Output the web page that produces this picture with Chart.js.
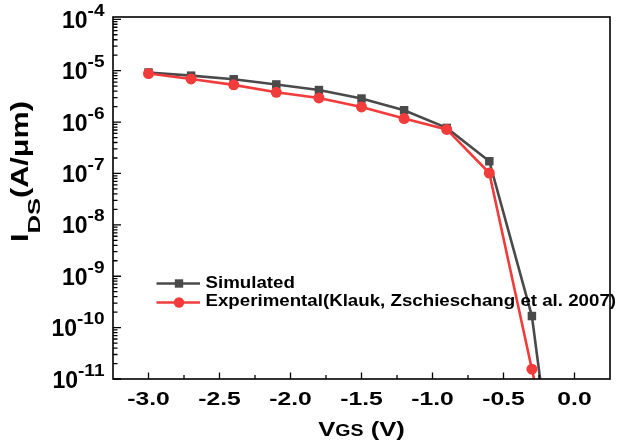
<!DOCTYPE html>
<html><head><meta charset="utf-8">
<script src="https://cdn.jsdelivr.net/npm/chart.js@4.4.0/dist/chart.umd.min.js"></script>
<style>html,body{margin:0;padding:0;background:#fff;} #wrap{width:623px;height:444px;}</style>
</head><body><div id="wrap"><canvas id="c" width="623" height="444"></canvas></div>
<script>
// ---- data ----
const vgs = [-3.0, -2.7, -2.4, -2.1, -1.8, -1.5, -1.2, -0.9, -0.6, -0.3, -0.2];
const simulated = [9.2e-6, 8.0e-6, 6.8e-6, 5.4e-6, 4.2e-6, 2.87e-6, 1.7e-6, 7.7e-7, 1.73e-7, 1.68e-10, 1.3e-12];
const experimental = [8.8e-6, 6.9e-6, 5.3e-6, 3.8e-6, 2.95e-6, 1.97e-6, 1.17e-6, 7.2e-7, 1.02e-7, 1.55e-11, 8.5e-13];
const xTickValues = [-3.0, -2.5, -2.0, -1.5, -1.0, -0.5, 0.0];
const xTickLabels = ["-3.0", "-2.5", "-2.0", "-1.5", "-1.0", "-0.5", "0.0"];
const yTickExponents = [-4, -5, -6, -7, -8, -9, -10, -11];
const seriesNames = ["Simulated", "Experimental(Klauk, Zschieschang et al. 2007)"];
const xTitleParts = ["V", "GS", " (V)"];
const yTitleParts = ["I", "DS", "(A/μm)"];

const GRAY = '#4a4a4a', RED = '#f23b3b';
const FAM = '"Liberation Sans", Arial, sans-serif';

function txt(ctx, s, x, y, size, sx, align) {
  ctx.save();
  ctx.font = 'bold ' + size + 'px ' + FAM;
  const w = ctx.measureText(s).width * sx;
  let x0 = x;
  if (align === 'center') x0 = x - w / 2;
  else if (align === 'right') x0 = x - w;
  ctx.translate(x0, y);
  ctx.scale(sx, 1);
  ctx.textAlign = 'left';
  ctx.textBaseline = 'alphabetic';
  ctx.fillStyle = '#000';
  ctx.fillText(s, 0, 0);
  ctx.restore();
  return w;
}
function measure(ctx, s, size, sx) {
  ctx.save(); ctx.font = 'bold ' + size + 'px ' + FAM;
  const w = ctx.measureText(s).width * sx; ctx.restore(); return w;
}

const decor = {
  id: 'decor',
  afterDraw(chart) {
    const ctx = chart.ctx, a = chart.chartArea;
    const xs = chart.scales.x, ys = chart.scales.y;
    ctx.save();
    ctx.strokeStyle = '#000';
    // ticks (inward)
    ctx.lineWidth = 1.3;
    ctx.beginPath();
    for (let e = -11; e <= -4; e++) {
      const y = ys.getPixelForValue(Math.pow(10, e));
      ctx.moveTo(a.left, y); ctx.lineTo(a.left + 8, y);
      if (e < -4) for (let m = 2; m <= 9; m++) {
        const yy = ys.getPixelForValue(m * Math.pow(10, e));
        ctx.moveTo(a.left, yy); ctx.lineTo(a.left + 4.5, yy);
      }
    }
    xTickValues.forEach(v => {
      const x = xs.getPixelForValue(v);
      ctx.moveTo(x, a.bottom); ctx.lineTo(x, a.bottom - 6.5);
      if (v < 0) {
        const xm = xs.getPixelForValue(v + 0.25);
        ctx.moveTo(xm, a.bottom); ctx.lineTo(xm, a.bottom - 4);
      }
    });
    ctx.stroke();
    // frame
    ctx.lineWidth = 1.6;
    ctx.strokeRect(a.left, a.top, a.right - a.left, a.bottom - a.top);

    // y tick labels
    yTickExponents.forEach(e => {
      const y = ys.getPixelForValue(Math.pow(10, e));
      const we = txt(ctx, String(e), 104.5, y - 3.5, 17, 1.12, 'right');
      txt(ctx, '10', 104.5 - we, y + 8.5, 23, 1.0, 'right');
    });
    // x tick labels
    xTickValues.forEach((v, i) => {
      txt(ctx, xTickLabels[i], xs.getPixelForValue(v), 405, 19, 1.3, 'center');
    });
    // x title
    const sxT = 1.22;
    const sizes = [21, 16, 21];
    let tot = 0;
    xTitleParts.forEach((p, i) => tot += measure(ctx, p, sizes[i], sxT));
    let cx = (a.left + a.right) / 2 - tot / 2;
    xTitleParts.forEach((p, i) => { cx += txt(ctx, p, cx, 436, sizes[i], sxT, 'left'); });
    // y title
    ctx.save();
    ctx.translate(28.3, 242);
    ctx.rotate(-Math.PI / 2);
    let ty = 0;
    ty += txt(ctx, yTitleParts[0], ty, 0, 23, 1.33, 'left');
    ty += txt(ctx, yTitleParts[1], ty, 11.5, 16, 1.6, 'left');
    txt(ctx, yTitleParts[2], ty, 0, 23, 1.33, 'left');
    ctx.restore();

    // legend
    const ds = chart.data.datasets;
    const rows = [{y: 283.5, tb: 287.5}, {y: 302.5, tb: 306}];
    ds.forEach((d, i) => {
      const r = rows[i];
      ctx.strokeStyle = d.borderColor; ctx.lineWidth = 2.5;
      ctx.beginPath(); ctx.moveTo(156.5, r.y); ctx.lineTo(200, r.y); ctx.stroke();
      ctx.fillStyle = d.pointBackgroundColor;
      if (d.pointStyle === 'rect') ctx.fillRect(179 - 4.2, r.y - 4.2, 8.4, 8.4);
      else { ctx.beginPath(); ctx.arc(179, r.y, 5.2, 0, Math.PI * 2); ctx.fill(); }
      txt(ctx, d.label, 205.5, r.tb, 17, 1.1, 'left');
    });
    ctx.restore();
  }
};

new Chart(document.getElementById('c'), {
  type: 'line',
  data: {
    datasets: [
      { label: seriesNames[0], data: vgs.map((x, i) => ({x, y: simulated[i]})),
        borderColor: GRAY, backgroundColor: GRAY, pointBackgroundColor: GRAY, pointBorderColor: GRAY,
        borderWidth: 2.6, pointStyle: 'rect', pointRadius: 6, pointBorderWidth: 0, tension: 0, clip: 0, order: 1 },
      { label: seriesNames[1], data: vgs.map((x, i) => ({x, y: experimental[i]})),
        borderColor: RED, backgroundColor: RED, pointBackgroundColor: RED, pointBorderColor: RED,
        borderWidth: 2.6, pointStyle: 'circle', pointRadius: 5.5, pointBorderWidth: 0, tension: 0, clip: 0, order: 0 }
    ]
  },
  options: {
    responsive: false, animation: false, devicePixelRatio: 1,
    layout: { padding: { left: 0, top: 17, right: 13, bottom: 0 } },
    plugins: { legend: { display: false }, tooltip: { enabled: false } },
    events: [],
    scales: {
      x: { type: 'linear', min: -3.25, max: 0.25,
        ticks: { display: false }, grid: { display: false }, border: { display: false },
        afterFit: s => { s.height = 65; } },
      y: { type: 'logarithmic', min: 1e-11, max: 1.108e-4,
        ticks: { display: false }, grid: { display: false }, border: { display: false },
        afterFit: s => { s.width = 113; } }
    }
  },
  plugins: [decor]
});
</script></body></html>
